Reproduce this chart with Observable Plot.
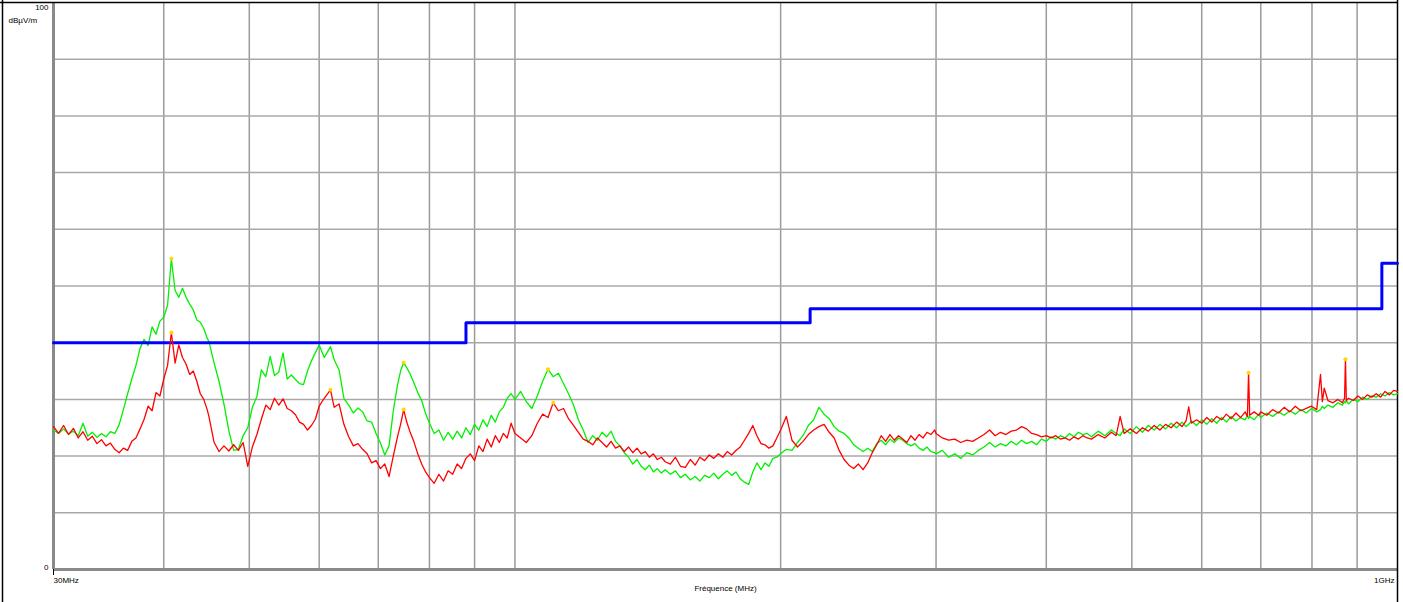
<!DOCTYPE html>
<html><head><meta charset="utf-8">
<script src="https://cdn.jsdelivr.net/npm/d3@7"></script>
<script src="https://cdn.jsdelivr.net/npm/@observablehq/plot@0.6"></script>
<style>
html,body{margin:0;padding:0;background:#fff;}
#chart{width:1403px;height:602px;overflow:hidden}
svg{display:block}
</style></head><body><div id="chart"></div>
<script>
// Sweep frequencies (MHz)
const freqs = [
30.0,30.4,30.8,31.2,31.6,32.0,32.4,32.8,33.2,33.6,34.0,34.4,34.8,35.2,35.6,36.0,36.4,36.8,37.2,37.6,38.0,38.4,38.8,39.2,39.6,40.0,40.4,40.8,41.2,41.6,42.0,42.4,42.8,43.2,43.6,44.0,44.4,44.8,
45.0,45.6,46.2,46.8,47.4,48.0,48.6,49.2,49.8,50.4,51.0,51.6,52.2,52.8,53.4,54.0,54.6,55.2,55.8,56.4,57.0,57.6,58.2,58.8,59.4,
60.0,60.8,61.8,62.4,63.2,64.0,64.8,65.6,66.4,67.2,68.0,68.8,69.6,70.4,71.2,72.0,72.8,73.6,74.2,74.8,75.4,76.0,76.8,77.6,78.4,79.2,
80,81,82,83,84,85,86,87,88,89,90,91,92,93,94,95,96,97,98,99,
100,101.5,103,104.5,106,107.5,109,110.5,112,113.5,115,116.5,118,119.5,121,122.5,124,125.5,127,128.5,130,131.5,133,134.5,136,137.5,139,140.5,142,143.5,145,146.5,148,
150,152,154,156,158,160,162,164,166,168,170,172,174,176,178,180,182,184,186,188,190,192,194,196,198,
200,203,206,209,212,215,218,221,224,227,230,233,236,239,242,245,248,251,254,257,260,263,266,269,272,275,278,281,284,287,290,293,296,299,
300,305,310,315,320,325,330,335,340,345,350,355,360,365,370,375,380,385,390,395,400,405,410,415,420,425,430,435,440,445,
450,458,466,474,480,485,490,498,506,514,522,530,538,546,554,562,570,576,580,584,592,600,608,616,624,632,640,648,656,664,672,676,678,680,688,696,
700,711,722,733,744,755,766,777,788,799,810,818,822,826,834,845,856,866,871,873,875,880,891,902,913,924,935,946,957,968,979,990,1000
];
// Green trace (dBµV/m)
const greenLevels = [
24.6,24.0,24.8,23.9,24.4,23.6,25.8,23.5,24.2,23.3,24.0,23.4,24.3,24.0,25.5,28.2,31.0,33.6,36.0,39.0,40.6,39.5,42.8,41.5,43.8,44.5,46.6,54.8,49.2,48.0,49.6,48.0,46.8,45.8,44.0,43.6,42.5,40.8,
40.2,36.5,33.2,29.2,24.5,21.0,21.2,23.6,25.0,28.6,30.5,35.2,34.0,37.6,34.2,34.8,38.2,33.6,34.3,33.5,32.8,32.6,35.0,36.8,38.2,
39.6,37.4,39.3,37.0,35.2,30.2,29.0,27.6,28.5,27.8,26.2,26.0,24.0,22.3,20.2,21.8,28.0,32.5,35.0,36.5,35.6,34.6,33.0,31.2,29.8,27.5,
25.8,24.0,24.6,22.8,24.2,23.0,24.4,23.2,25.0,23.8,25.6,24.6,26.4,25.2,27.2,26.0,27.8,28.6,30.2,31.0,
30.0,31.4,29.6,28.4,30.6,33.2,35.3,34.0,34.6,32.8,31.0,29.0,26.4,24.6,22.4,23.6,22.8,24.2,23.4,24.4,22.6,21.8,20.6,19.8,18.6,19.4,18.2,17.6,18.4,17.2,17.8,17.0,17.6,
16.8,17.4,16.2,16.8,15.8,16.4,15.6,16.6,16.2,17.0,16.0,16.8,17.4,16.6,17.2,16.0,15.4,15.0,17.2,18.8,17.6,18.8,18.2,19.6,19.8,
20.4,21.2,21.0,22.4,23.6,25.4,26.4,28.6,27.4,26.6,25.2,24.4,24.0,23.2,22.0,21.4,20.8,21.4,20.8,22.2,22.8,22.0,23.0,22.4,23.2,22.8,22.2,21.8,22.2,21.4,21.0,21.6,20.8,20.6,
20.4,21.0,19.8,20.4,19.6,20.6,20.2,21.0,21.6,22.4,21.6,22.2,21.8,22.6,22.0,22.8,22.2,22.6,22.0,23.0,22.6,23.4,23.0,23.6,23.2,24.0,23.4,24.2,23.8,24.0,
23.4,24.4,23.6,24.6,24.0,23.6,24.8,24.0,25.2,24.2,25.4,24.6,25.6,24.8,25.8,25.0,26.0,25.2,25.6,26.2,25.4,26.4,25.6,26.6,25.8,26.8,26.0,27.0,26.2,26.8,26.4,27.2,26.6,27.0,26.4,27.4,
26.8,27.6,27.0,27.8,27.2,28.0,27.4,28.2,27.6,28.4,27.8,28.2,28.8,28.4,29.0,28.6,29.4,29.0,29.6,29.4,29.8,29.2,30.0,29.6,30.4,30.0,30.6,30.4,31.0,30.6,31.2,30.8,31.0
];
// Red trace (dBµV/m)
const redLevels = [
25.2,24.0,25.4,23.8,24.9,23.2,24.3,22.8,23.5,22.2,22.9,21.8,22.3,21.2,20.6,21.4,21.0,22.6,23.2,24.8,26.5,28.8,28.0,31.2,30.6,33.6,36.0,41.8,36.4,39.6,37.4,36.2,34.4,35.0,33.2,31.0,30.0,28.2,
27.0,22.5,20.8,21.8,20.9,22.0,21.0,22.4,18.2,21.6,23.8,26.5,29.0,28.2,30.2,29.0,30.1,28.4,28.0,27.3,26.0,25.6,24.6,25.4,26.5,
28.8,30.2,31.7,28.6,29.2,25.6,23.4,21.8,22.2,21.2,20.4,18.8,19.2,17.8,18.6,16.4,20.0,23.4,25.6,28.2,26.0,24.4,22.6,20.4,18.6,17.2,
16.2,15.2,16.8,15.6,17.4,16.8,18.6,17.8,19.6,20.4,19.2,21.8,20.8,23.0,21.6,23.6,22.4,24.0,23.2,25.8,
24.0,23.2,22.4,23.6,25.8,27.4,26.8,29.4,28.0,28.4,26.6,25.4,24.2,23.0,22.6,22.0,23.2,22.4,21.6,22.6,21.4,21.8,20.8,21.6,20.6,21.4,20.4,20.8,19.8,20.4,19.4,19.8,19.0,
18.6,19.8,18.2,18.0,19.4,18.4,19.8,19.2,20.2,19.6,20.4,19.8,20.8,20.2,21.0,21.6,22.8,24.0,25.4,23.6,22.2,22.0,21.4,21.8,23.2,
24.6,27.0,22.8,21.6,22.6,23.8,24.6,25.2,25.6,24.2,23.2,21.0,19.4,18.4,17.8,18.6,17.6,18.8,20.6,22.0,23.6,22.6,23.8,22.8,23.6,23.0,22.4,23.6,22.8,23.8,23.2,24.2,23.8,24.6,
24.0,23.2,22.8,23.0,22.4,22.8,22.6,23.2,23.8,24.6,23.6,24.2,23.8,24.4,24.6,25.2,24.8,24.0,23.8,23.4,23.6,23.2,23.6,23.0,23.2,22.8,23.4,23.0,23.6,23.2,
23.0,23.8,23.2,24.2,23.6,27.0,24.0,24.8,24.0,25.0,24.4,25.4,24.6,25.6,25.0,26.0,25.2,26.2,28.7,25.8,26.4,25.8,26.8,26.0,27.0,26.4,27.4,26.6,27.6,26.8,27.8,27.0,34.7,27.2,27.8,27.2,
27.8,27.2,28.2,27.6,28.6,27.8,28.8,28.0,28.4,28.8,28.2,34.4,29.6,32.0,29.8,29.4,30.0,29.4,30.2,37.1,29.8,30.2,29.8,30.6,30.0,30.8,30.4,31.0,30.4,31.4,30.8,31.6,31.4
];
// Limit line (step)
const limitFreqs = [30, 88, 88, 216, 216, 960, 960, 1000];
const limitLevels = [40, 40, 43.5, 43.5, 46, 46, 54, 54];
// Peak markers
const peakFreqs = [40.8, 40.8, 61.8, 74.8, 74.8, 109, 110.5, 678, 873];
const peakLevels = [54.8, 41.8, 31.7, 36.5, 28.2, 35.3, 29.4, 34.7, 37.1];
// Grid ticks
const xGridTicks = [40, 50, 60, 70, 80, 90, 100, 200, 300, 400, 500, 600, 700, 800, 900];
const yGridTicks = [10, 20, 30, 40, 50, 60, 70, 80, 90];

const traces = freqs.map((f, i) => ({f, g: greenLevels[i], r: redLevels[i]}));
const limit = limitFreqs.map((f, i) => ({f, v: limitLevels[i]}));
const peaks = peakFreqs.map((f, i) => ({f, v: peakLevels[i]}));

const chart = Plot.plot({
  width: 1403, height: 602,
  marginLeft: 53, marginRight: 6, marginTop: 2, marginBottom: 33,
  style: {fontFamily: "'Liberation Sans', Arial, sans-serif", fontSize: "8px", background: "#fff", color: "#000"},
  x: {type: "log", domain: [30, 1000]},
  y: {domain: [0, 100]},
  marks: [
    Plot.ruleX(xGridTicks, {stroke: "#9b9b9b", strokeWidth: 1.5}),
    Plot.ruleY(yGridTicks, {stroke: "#a8a8a8", strokeWidth: 1.5}),
    Plot.ruleX([30], {stroke: "#8a8a8a", strokeWidth: 3}),
    Plot.ruleY([0], {stroke: "#8a8a8a", strokeWidth: 3}),
    Plot.ruleY([100], {stroke: "#000", strokeWidth: 1.5, insetLeft: -53}),
    Plot.ruleX([1000], {stroke: "#000", strokeWidth: 1.5, insetTop: -2, insetBottom: -33}),
    Plot.ruleX([30], {stroke: "#000", strokeWidth: 1.5, insetTop: -2, insetBottom: -33, dx: -51}),
    Plot.line(traces, {x: "f", y: "g", stroke: "#00f000", strokeWidth: 1.3}),
    Plot.line(limit, {x: "f", y: "v", stroke: "#0000ff", strokeWidth: 3}),
    Plot.line(traces, {x: "f", y: "r", stroke: "#ff0000", strokeWidth: 1.3}),
    Plot.dot(peaks, {x: "f", y: "v", r: 2, fill: "#ffd800", stroke: "none"}),
    Plot.axisX([30], {tickSize: 6, tickPadding: 2, textAnchor: "start", tickFormat: () => "30MHz", label: null}),
    Plot.axisX([1000], {tickSize: 0, tickPadding: 8, textAnchor: "end", dx: -3, tickFormat: () => "1GHz", label: null}),
    Plot.axisY([100], {tickSize: 0, tickPadding: 5, dy: 5, tickFormat: () => "100", label: null}),
    Plot.axisY([0], {tickSize: 0, tickPadding: 5, dy: -2, tickFormat: () => "0", label: null}),
    Plot.text(["dBµV/m"], {frameAnchor: "top-left", dx: -45, dy: 15, textAnchor: "start"}),
    Plot.text(["Fréquence (MHz)"], {frameAnchor: "bottom", dy: 21})
  ]
});
document.getElementById("chart").appendChild(chart);
</script>
</body></html>
